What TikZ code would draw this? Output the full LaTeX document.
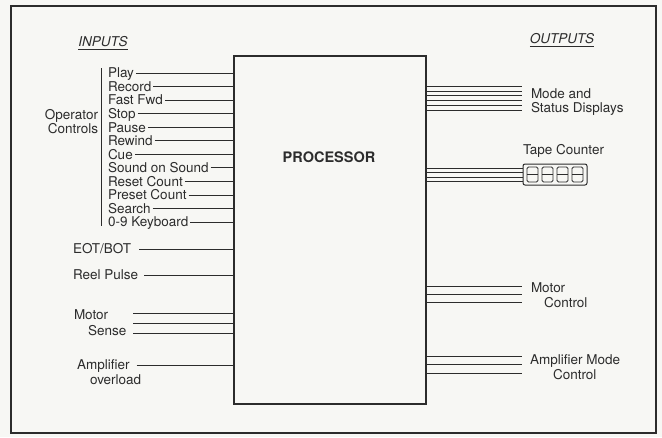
\documentclass[tikz,border=0pt]{standalone}
\usepackage{fontspec}
\setmainfont{TeX Gyre Heros}
\definecolor{ink}{HTML}{2C2C2C}
\definecolor{paper}{HTML}{F7F7F4}
\begin{document}
\begin{tikzpicture}[x=1pt,y=-1pt,
  lbl/.style={inner sep=0pt, outer sep=0pt, text=ink, font=\fontsize{13.5}{14}\selectfont,
              text height=9.7pt, text depth=0pt},
  wire/.style={draw=ink, line width=0.8pt},
  heading/.style={lbl, font=\fontsize{13.5}{14}\selectfont\itshape},
  procbox/.style={draw=ink, line width=1.1pt, inner sep=0pt, outer sep=0pt, anchor=north west},
  digit/.style={draw=ink, line width=0.9pt, rounded corners=1.5pt, minimum width=11pt,
                minimum height=15pt, inner sep=0pt, outer sep=0pt}]
\useasboundingbox (0,0) rectangle (662,437);
\fill[paper] (0,0) rectangle (662,437);
\draw[ink, line width=1.4pt] (11,6) rectangle (656,433);

% headings
\node[heading] (inputs) at (103,42) {INPUTS};
\draw[wire] ([yshift=-2.5pt]inputs.south west) -- ([yshift=-2.5pt]inputs.south east);
\node[heading] (outputs) at (562,39) {OUTPUTS};
\draw[wire] ([yshift=-2.5pt]outputs.south west) -- ([yshift=-2.5pt]outputs.south east);

% processor
\node[procbox, minimum width=192pt, minimum height=348pt] (proc) at (234,56) {};
\node[lbl, font=\fontsize{14.5}{15}\selectfont\bfseries, text height=10.4pt] (ptext) at (329,157) {PROCESSOR};

% operator controls
\foreach \t [count=\i from 0] in {Play,Record,Fast Fwd,Stop,Pause,Rewind,Cue,Sound on Sound,Reset Count,Preset Count,Search,0-9 Keyboard} {
  \node[lbl, anchor=west] (in\i) at (108,{73+13.55*\i}) {\t};
  \draw[wire] ([xshift=2pt]in\i.east) -- (in\i.east -| proc.west);
}
\coordinate (brtop) at (101,68);
\coordinate (brbot) at (101,226);
\draw[wire] (brtop) -- (brbot);
\node[lbl, anchor=east] (oper) at (98,115) {Operator};
\node[lbl, anchor=east] (ctrl) at (98,128.5) {Controls};

% other inputs
\node[lbl, anchor=west] (eot) at (73,249) {EOT/BOT};
\draw[wire] ([xshift=8pt]eot.east) -- (eot.east -| proc.west);
\node[lbl, anchor=west] (reel) at (73,275) {Reel Pulse};
\draw[wire] ([xshift=6pt]reel.east) -- (reel.east -| proc.west);

\node[lbl, anchor=west] (motor) at (74,315) {Motor};
\node[lbl, anchor=west] (sense) at (88,331) {Sense};
\foreach \y [count=\i] in {313,323,333} {
  \coordinate (ms\i) at (133,\y);
  \draw[wire] (ms\i) -- (ms\i -| proc.west);
}
\node[lbl, anchor=west] (amp) at (77,365) {Amplifier};
\node[lbl, anchor=west] (ovl) at (90,380) {overload};
\draw[wire] ([xshift=7pt]amp.east) -- (amp.east -| proc.west);

% outputs: mode and status displays
\foreach \i in {0,...,5} {
  \coordinate (md\i) at (522,{86+4.9*\i});
  \draw[wire] (md\i -| proc.east) -- (md\i);
}
\node[lbl, anchor=west] (mode) at (531,94) {Mode and};
\node[lbl, anchor=west] (status) at (531,107.5) {Status Displays};

% tape counter
\node[lbl, anchor=west] (tapelbl) at (523,150) {Tape Counter};
\node[draw=ink, line width=1pt, rounded corners=2pt, minimum width=64pt, minimum height=21pt,
      inner sep=0pt, outer sep=0pt, anchor=north west] (tc) at (523,164) {};
\foreach \x [count=\i] in {532.5,547.5,562.5,577.5} {
  \node[digit] (dg\i) at (\x,174.5) {};
  \draw[ink, line width=0.9pt] (dg\i.west) -- (dg\i.east);
}
\foreach \y [count=\i] in {168,172.5,177,181.5} {
  \coordinate (tl\i) at (523,\y);
  \draw[wire] (tl\i -| proc.east) -- (tl\i -| tc.west);
}

% motor control
\foreach \y [count=\i] in {286,294,302} {
  \coordinate (mc\i) at (522,\y);
  \draw[wire] (mc\i -| proc.east) -- (mc\i);
}
\node[lbl, anchor=west] (mctl1) at (531,288) {Motor};
\node[lbl, anchor=west] (mctl2) at (544,302.5) {Control};

% amplifier mode control
\foreach \y [count=\i] in {356,364.5,373} {
  \coordinate (ac\i) at (522,\y);
  \draw[wire] (ac\i -| proc.east) -- (ac\i);
}
\node[lbl, anchor=west] (actl1) at (530,360) {Amplifier Mode};
\node[lbl, anchor=west] (actl2) at (553,374.5) {Control};
\end{tikzpicture}
\end{document}
